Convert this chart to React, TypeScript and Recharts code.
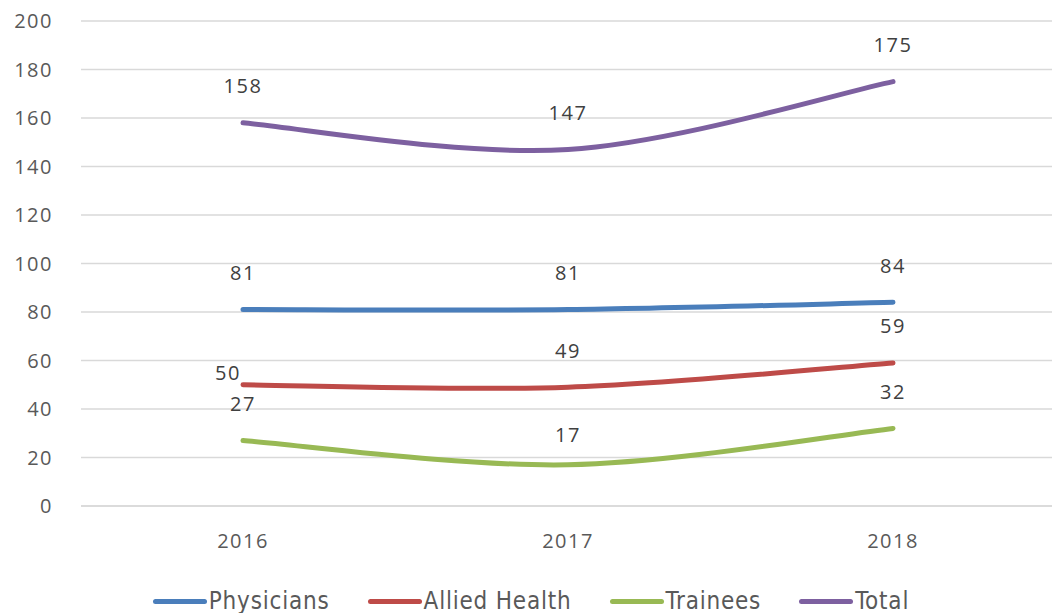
import { CartesianGrid, LabelList, Legend, Line, LineChart, XAxis, YAxis } from 'recharts';

const years = ['2016', '2017', '2018'];
const physicians = [81, 81, 84];
const alliedHealth = [50, 49, 59];
const trainees = [27, 17, 32];
const total = [158, 147, 175];
const yTicks = [0, 20, 40, 60, 80, 100, 120, 140, 160, 180, 200];

const data = years.map((year, i) => ({
  year,
  physicians: physicians[i],
  alliedHealth: alliedHealth[i],
  trainees: trainees[i],
  total: total[i],
}));

const series = [
  { key: 'physicians', name: 'Physicians', color: '#4a7ebb' },
  { key: 'alliedHealth', name: 'Allied Health', color: '#be4b48' },
  { key: 'trainees', name: 'Trainees', color: '#98b954' },
  { key: 'total', name: 'Total', color: '#7d60a0' },
];

const FONT = '"Open Sans", "Segoe UI", sans-serif';
const tickStyle = { fontSize: 20, fill: '#595959', fontFamily: FONT, letterSpacing: 1.5 };

// Excel-style smoothed line (Catmull-Rom through the points)
class SmoothCurve {
  _context: any;
  _pts: number[][] = [];
  _line: number = NaN;
  constructor(context: any) {
    this._context = context;
  }
  areaStart() {
    this._line = 0;
  }
  areaEnd() {
    this._line = NaN;
  }
  lineStart() {
    this._pts = [];
  }
  point(x: number, y: number) {
    this._pts.push([+x, +y]);
  }
  lineEnd() {
    const p = this._pts;
    const n = p.length;
    if (!n) return;
    if (this._line) this._context.lineTo(p[0][0], p[0][1]);
    else this._context.moveTo(p[0][0], p[0][1]);
    for (let i = 0; i < n - 1; i++) {
      const p0 = p[i - 1] || p[i];
      const p1 = p[i];
      const p2 = p[i + 1];
      const p3 = p[i + 2] || p[i + 1];
      this._context.bezierCurveTo(
        p1[0] + (p2[0] - p0[0]) / 6,
        p1[1] + (p2[1] - p0[1]) / 6,
        p2[0] - (p3[0] - p1[0]) / 6,
        p2[1] - (p3[1] - p1[1]) / 6,
        p2[0],
        p2[1],
      );
    }
    if (this._line === 1) this._context.closePath();
    if (!isNaN(this._line)) this._line = 1 - this._line;
  }
}
const smooth = (context: any) => new SmoothCurve(context);

// Excel puts labels above, except the 2016 Allied Health one which sits up-left
function labelFor(key: string) {
  return (props: any) => {
    const { x, y, value, index } = props;
    let dx = 0;
    let dy = -37;
    if (key === 'alliedHealth' && index === 0) {
      dx = -15;
      dy = -12;
    }
    if (key === 'trainees' && index === 1) dy = -30;
    return (
      <text
        x={x + dx}
        y={y + dy}
        textAnchor="middle"
        dominantBaseline="central"
        fontSize={20}
        letterSpacing={1.5}
        fill="#404040"
        fontFamily={FONT}
      >
        {value}
      </text>
    );
  };
}

function LegendContent() {
  return (
    <div style={{ display: 'flex', justifyContent: 'center', alignItems: 'center', gap: 38, paddingTop: 19, paddingLeft: 10 }}>
      {series.map((s) => (
        <div key={s.key} style={{ display: 'flex', alignItems: 'center' }}>
          <span style={{ display: 'inline-block', width: 54, height: 5, borderRadius: 3, background: s.color, marginRight: 2 }} />
          <span
            style={{
              fontFamily: '"DejaVu Sans Condensed", "Liberation Sans Narrow", sans-serif',
              fontSize: 24,
              letterSpacing: 0.8,
              color: '#595959',
            }}
          >
            {s.name}
          </span>
        </div>
      ))}
    </div>
  );
}

export default function App() {
  return (
    <div style={{ position: 'absolute', left: 0, top: 0, background: '#fff' }}>
      <LineChart width={1052} height={613} data={data} margin={{ top: 21, right: 0, bottom: 2, left: 0 }}>
        <CartesianGrid vertical={false} stroke="#d9d9d9" strokeWidth={1.3} />
        <XAxis
          dataKey="year"
          axisLine={{ stroke: '#d9d9d9', strokeWidth: 1.3 }}
          tickLine={false}
          tick={tickStyle}
          tickMargin={22}
          height={62}
          padding={{ left: 162, right: 159 }}
        />
        <YAxis
          domain={[0, 200]}
          ticks={yTicks}
          interval={0}
          axisLine={false}
          tickLine={false}
          width={81}
          tick={tickStyle}
          tickMargin={22}
        />
        <Legend verticalAlign="bottom" height={43} content={<LegendContent />} />
        {series.map((s) => (
          <Line
            key={s.key}
            type={smooth as any}
            dataKey={s.key}
            name={s.name}
            stroke={s.color}
            strokeWidth={5}
            strokeLinecap="round"
            dot={false}
            activeDot={false}
            isAnimationActive={false}
          >
            <LabelList dataKey={s.key} content={labelFor(s.key)} />
          </Line>
        ))}
      </LineChart>
    </div>
  );
}
